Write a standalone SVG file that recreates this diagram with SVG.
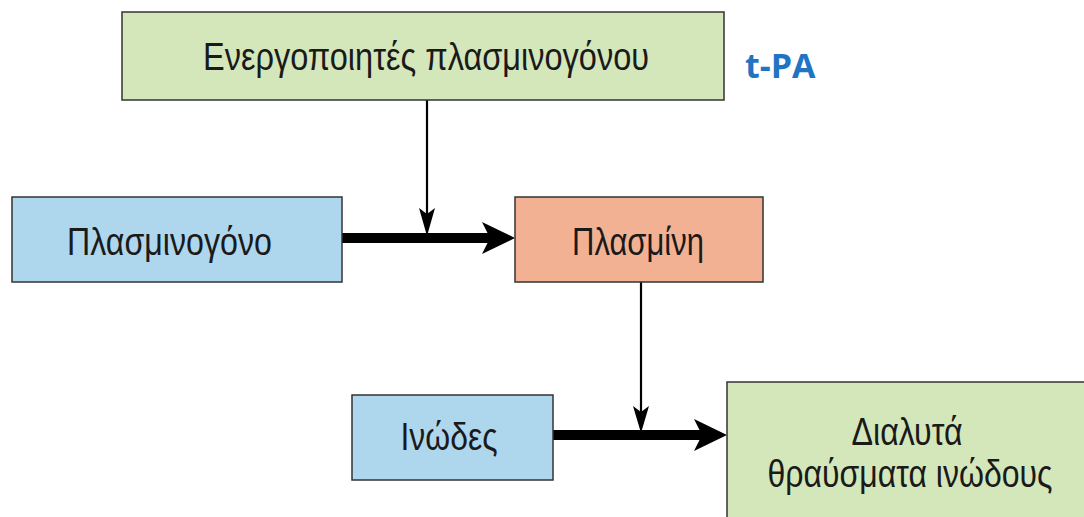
<svg xmlns="http://www.w3.org/2000/svg" width="1084" height="517" viewBox="0 0 1084 517">
<style>
.box{stroke:#333;stroke-width:1.5}
.green{fill:#d4e7bb}
.blue{fill:#aed7ee}
.salmon{fill:#f3b194}
.lbl{font-family:"Liberation Sans",Arial,sans-serif;font-size:39px;fill:#1a1a1a}
.thin{stroke:#000;stroke-width:2.2;fill:none}
.thick{stroke:#000;stroke-width:10;fill:none}
</style>
<rect width="1084" height="517" fill="#fff"/>
<g id="connectors">
<line class="thin" x1="427" y1="100" x2="427" y2="216"/>
<polygon points="419,208 427,236 435,208 427,214" fill="#000"/>
<line class="thick" x1="342" y1="238" x2="490" y2="238"/>
<polygon points="482,222 515,238 482,254 490,238" fill="#000"/>
<line class="thin" x1="641" y1="282" x2="641" y2="414"/>
<polygon points="633,406 641,433 649,406 641,412" fill="#000"/>
<line class="thick" x1="553" y1="435" x2="702" y2="435"/>
<polygon points="694,419 727,435 694,451 702,435" fill="#000"/>
</g>
<g id="activator">
<rect class="box green" x="122" y="12" width="602" height="88"/>
<text class="lbl" x="426" y="70" text-anchor="middle" textLength="446" lengthAdjust="spacingAndGlyphs">Ενεργοποιητές πλασμινογόνου</text>
</g>
<g id="tpa">
<text x="745" y="78" font-family="'Open Sans','Liberation Sans',sans-serif" font-weight="bold" font-size="34" fill="#1f74c4">t-PA</text>
</g>
<g id="plasminogen">
<rect class="box blue" x="12" y="197" width="330" height="85"/>
<text class="lbl" x="169.5" y="255" text-anchor="middle" textLength="205" lengthAdjust="spacingAndGlyphs">Πλασμινογόνο</text>
</g>
<g id="plasmin">
<rect class="box salmon" x="515" y="197" width="248" height="85"/>
<text class="lbl" x="638" y="255" text-anchor="middle" textLength="132" lengthAdjust="spacingAndGlyphs">Πλασμίνη</text>
</g>
<g id="fibrin">
<rect class="box blue" x="352" y="395" width="201" height="85"/>
<text class="lbl" x="449" y="450" text-anchor="middle" textLength="97" lengthAdjust="spacingAndGlyphs">Ινώδες</text>
</g>
<g id="fragments">
<rect class="box green" x="727" y="382" width="362" height="140"/>
<text class="lbl" x="907" y="445" text-anchor="middle" textLength="111" lengthAdjust="spacingAndGlyphs">Διαλυτά</text>
<text class="lbl" x="910" y="487" text-anchor="middle" textLength="285" lengthAdjust="spacingAndGlyphs">θραύσματα ινώδους</text>
</g>
</svg>
